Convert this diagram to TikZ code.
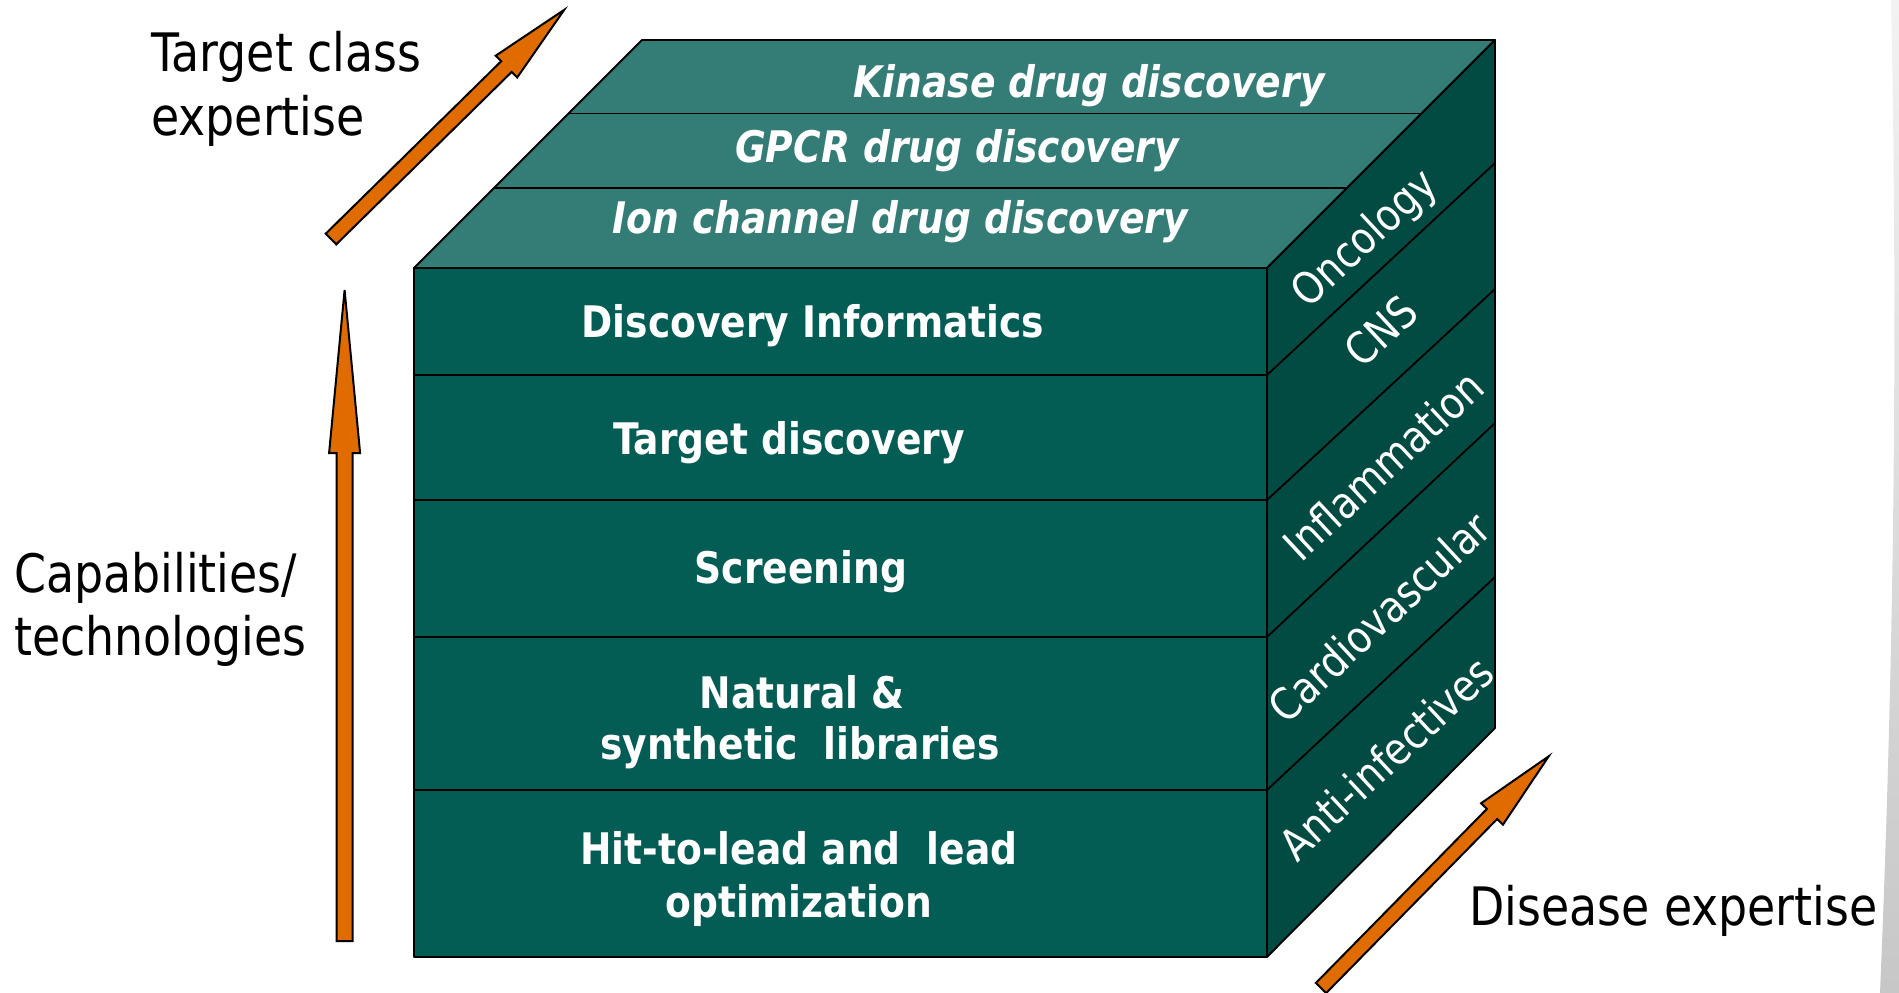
\documentclass[tikz,border=0pt]{standalone}
\usepackage{fontspec}
\setmainfont{DejaVu Sans}[FakeStretch=0.865]
\definecolor{frontc}{RGB}{3,93,85}
\definecolor{topc}{RGB}{52,125,118}
\definecolor{sidec}{RGB}{2,75,66}
\definecolor{arrowc}{RGB}{224,108,0}
\newcommand\blockarrow[6]{%
  \begin{scope}[shift={#1}, rotate=#2]
    \draw[blockarr] (0,-#4) -- ({#3-#6},-#4) -- ({#3-#6},-#5) -- (#3,0) -- ({#3-#6},#5) -- ({#3-#6},#4) -- (0,#4) -- cycle;
  \end{scope}}
\begin{document}
\begin{tikzpicture}[x=1pt,y=-1pt,
  face/.style={draw=black, line width=1.8pt, line join=round},
  divline/.style={draw=black, line width=1.8pt},
  blockarr/.style={draw=black, fill=arrowc, line width=2pt, line join=miter},
  lbl/.style={anchor=base west, inner sep=0pt, text=black, font=\fontsize{53}{64}\selectfont},
  fronttxt/.style={anchor=base, inner sep=0pt, text=white, font=\fontsize{43.5}{52}\selectfont\bfseries},
  toptxt/.style={anchor=base, inner sep=0pt, text=white, font=\fontsize{43.5}{52}\selectfont\bfseries\itshape},
  sidetxt/.style={inner sep=0pt, text=white, rotate=43, font=\fontsize{44}{52}\selectfont}]
\useasboundingbox (0,0) rectangle (1899,993);
% page shadow at right edge
\shade[top color=black!5, bottom color=black!22] (1891,0) .. controls (1898,330) and (1894,660) .. (1880,993) -- (1899,993) -- (1899,0) -- cycle;
% cube corners
\coordinate (FTL) at (414,268);
\coordinate (FTR) at (1267,268);
\coordinate (FBL) at (414,957);
\coordinate (FBR) at (1267,957);
\coordinate (BTL) at (642,40);
\coordinate (BTR) at (1495,40);
\coordinate (BBR) at (1495,728);
% faces
\path[face, fill=frontc] (FTL) -- (FTR) -- (FBR) -- (FBL) -- cycle;
\path[face, fill=topc] (FTL) -- (BTL) -- (BTR) -- (FTR) -- cycle;
\path[face, fill=sidec] (FTR) -- (BTR) -- (BBR) -- (FBR) -- cycle;
% top dividers
\draw[divline] (568.5,113.5) -- (1421.5,113.5);
\draw[divline] (494,188) -- (1347,188);
% front dividers
\foreach \yy in {375,500,637,790} \draw[divline] (414,\yy) -- (1267,\yy);
% side dividers
\draw[divline] (1267,375) -- (1495,163);
\draw[divline] (1267,500) -- (1495,289);
\draw[divline] (1267,637) -- (1495,423);
\draw[divline] (1267,790) -- (1495,577);
% top texts
\node[toptxt] (kin) at (1089,97) {Kinase drug discovery};
\node[toptxt] (gpcr) at (957,162) {GPCR drug discovery};
\node[toptxt] (ion) at (900,233) {Ion channel drug discovery};
% front texts
\node[fronttxt] (di) at (813,337) {Discovery Informatics};
\node[fronttxt] (td) at (789,454) {Target discovery};
\node[fronttxt] (scr) at (801,583) {Screening};
\node[fronttxt] (nat1) at (802,708) {Natural \&};
\node[fronttxt] (nat2) at (800,759) {synthetic~ libraries};
\node[fronttxt] (hit1) at (799,864) {Hit-to-lead and~ lead};
\node[fronttxt] (hit2) at (799,917) {optimization};
% side texts
\node[sidetxt] (onc) at (1366,240) {Oncology};
\node[sidetxt] (cns) at (1381,331) {CNS};
\node[sidetxt] (inf) at (1383,465) {Inflammation};
\node[sidetxt] (car) at (1379,617) {Cardiovascular};
\node[sidetxt] (anti) at (1386,758) {Anti-infectives};
% outside labels
\node[lbl] (tc1) at (151,71) {Target class};
\node[lbl] (tc2) at (151,135) {expertise};
\node[lbl] (cap1) at (14,592) {Capabilities/};
\node[lbl] (cap2) at (14,655) {technologies};
\node[lbl] (dis) at (1469,925) {Disease expertise};
% block arrows
\blockarrow{(331,239)}{44.5}{327}{7.5}{15.3}{81}
\blockarrow{(344.6,941)}{90}{651}{8}{15.5}{163}
\blockarrow{(1321,988)}{45.5}{325}{7.2}{15.3}{81}
\end{tikzpicture}
\end{document}
